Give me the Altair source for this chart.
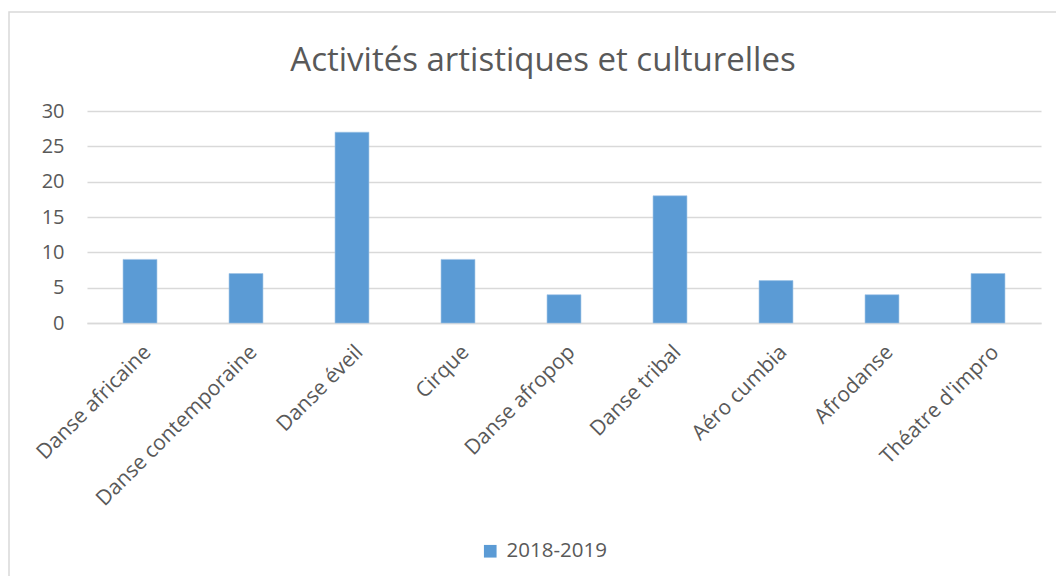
import altair as alt
import pandas as pd

categories = ["Danse africaine", "Danse contemporaine", "Danse éveil", "Cirque",
              "Danse afropop", "Danse tribal", "Aéro cumbia", "Afrodanse", "Théatre d'impro"]
values = [9, 7, 27, 9, 4, 18, 6, 4, 7]
series = ["2018-2019"] * len(categories)

df = pd.DataFrame({"cat": categories, "val": values, "serie": series})

FONT = "Open Sans"
GREY = "#595959"

border = alt.Chart(pd.DataFrame({"a": [0]})).mark_rect(
    filled=False, stroke="#d9d9d9", strokeWidth=1.5
).encode(
    x=alt.value(-78), x2=alt.value(1000),
    y=alt.value(-99), y2=alt.value(490),
)

bars = alt.Chart(df).mark_bar(color="#5B9BD5", stroke="#9dc3e6", strokeWidth=0.6).encode(
    x=alt.X("cat:N", sort=categories, title=None,
            scale=alt.Scale(paddingInner=0.68, paddingOuter=0.34),
            axis=alt.Axis(labelAngle=-45, labelFontSize=21, labelColor=GREY, labelFont=FONT,
                          ticks=False, domainColor="#d9d9d9", domainWidth=1.5,
                          labelPadding=18, labelLimit=300)),
    y=alt.Y("val:Q", title=None,
            scale=alt.Scale(domain=[0, 30]),
            axis=alt.Axis(values=[0, 5, 10, 15, 20, 25, 30], labelFontSize=20, labelColor=GREY,
                          labelFont=FONT, ticks=False, domain=False, gridColor="#d9d9d9",
                          gridWidth=1.5, labelPadding=23)),
    fill=alt.Fill("serie:N", scale=alt.Scale(range=["#5B9BD5"]),
                  legend=alt.Legend(title=None, orient="none", legendX=393, legendY=430,
                                    labelFontSize=20.5, labelColor=GREY, labelFont=FONT,
                                    labelOffset=6,
                                    symbolType="square", symbolSize=160, symbolStrokeWidth=0)),
)

chart = alt.layer(border, bars).properties(
    width=954, height=212,
    title=alt.Title("Activités artistiques et culturelles", fontSize=33, font=FONT,
                    color=GREY, fontWeight="normal", anchor="middle", offset=0, dy=93, dx=-21,
                    baseline="alphabetic"),
    autosize=alt.AutoSizeParams(type="none"),
    padding={"left": 79, "top": 103, "right": 15, "bottom": 253},
).configure_view(stroke=None)

chart.save("out.html", embed_options={"renderer": "svg", "actions": False})
